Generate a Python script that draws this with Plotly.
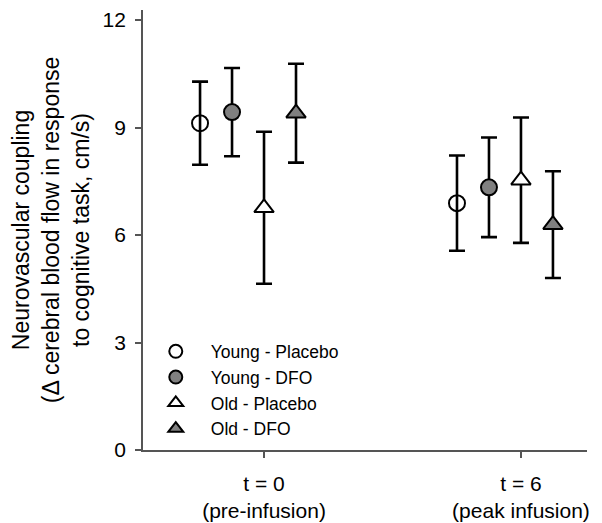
import plotly.graph_objects as go

groups = ["t = 0<br>(pre-infusion)", "t = 6<br>(peak infusion)"]
series_names = ["Young - Placebo", "Young - DFO", "Old - Placebo", "Old - DFO"]
young_placebo = [9.12, 6.89]
young_placebo_err = [1.16, 1.33]
young_dfo = [9.43, 7.33]
young_dfo_err = [1.23, 1.39]
old_placebo = [6.76, 7.53]
old_placebo_err = [2.12, 1.75]
old_dfo = [9.40, 6.29]
old_dfo_err = [1.38, 1.49]
y_ticks = [0, 3, 6, 9, 12]

values = [young_placebo, young_dfo, old_placebo, old_dfo]
errors = [young_placebo_err, young_dfo_err, old_placebo_err, old_dfo_err]
symbols = ["circle", "circle", "triangle-up", "triangle-up"]
fills = ["rgba(0,0,0,0)", "#808080", "white", "#808080"]
sizes = [16, 16, 17, 17]
offsets = [-0.249, -0.1245, 0.0, 0.1245]

FONT = "Liberation Sans, Arial, sans-serif"
AX = "#555555"
fig = go.Figure()
base = list(range(len(groups)))
for i in range(4):
    fig.add_trace(go.Scatter(
        x=[b + offsets[i] for b in base], y=values[i], mode="markers",
        marker=dict(symbol=symbols[i], size=sizes[i], color=fills[i],
                    line=dict(color="black", width=2)),
        error_y=dict(type="data", array=errors[i], color="black",
                     thickness=2.6, width=8),
        showlegend=False, legendgroup=series_names[i]))
for i in range(4):
    fig.add_trace(go.Scatter(
        x=[None], y=[None], mode="markers", name=series_names[i],
        marker=dict(symbol=symbols[i], size=13, color=fills[i] if i else "white",
                    line=dict(color="black", width=2)),
        legendgroup=series_names[i], showlegend=True))

# page body has an 8px default margin; margins below compensate for it
fig.update_layout(
    width=602, height=523,
    margin=dict(l=135, r=23, t=0, b=81),
    paper_bgcolor="white", plot_bgcolor="white",
    font=dict(family=FONT, color="black", size=21),
    legend=dict(x=-0.005, y=0.265, xanchor="left", yanchor="top",
                font=dict(size=17.5, family=FONT), itemwidth=60,
                bgcolor="rgba(0,0,0,0)", tracegroupgap=0),
    xaxis=dict(range=[-0.471, 1.257], tickvals=base, ticktext=groups,
               showgrid=False, zeroline=False, showline=True,
               linecolor=AX, linewidth=1.8, ticks="outside",
               ticklen=6, tickwidth=1.8, tickcolor=AX,
               tickfont=dict(size=21), ticklabelstandoff=8,
               ticklabeloverflow="allow"),
    yaxis=dict(range=[0, 12.28], tickvals=y_ticks, showgrid=False,
               zeroline=False, showline=True, linecolor=AX,
               linewidth=1.8, ticks="outside", ticklen=6, tickwidth=1.8,
               tickcolor=AX, tickfont=dict(size=21),
               ticklabelstandoff=5, ticklabeloverflow="allow",
               title=dict(text="Neurovascular coupling<br>(\u0394 cerebral blood flow in response<br>to cognitive task, cm/s)",
                          font=dict(size=23), standoff=18)),
)
fig.write_html("out.html")
